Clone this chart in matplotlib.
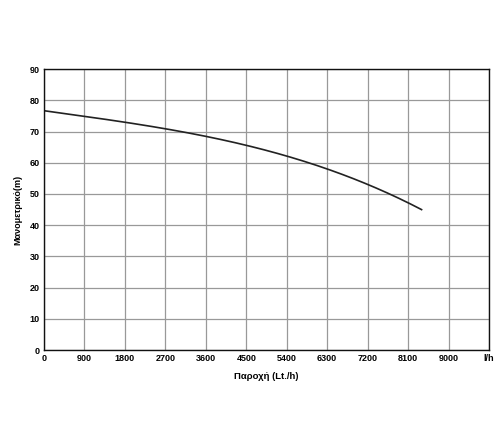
import matplotlib
matplotlib.use("Agg")
import matplotlib.pyplot as plt
import numpy as np

flow = [0, 900, 1800, 2700, 3600, 4500, 5400, 6300, 7200, 8100, 8400]
head = [76.5, 75.0, 73.2, 71.0, 68.3, 65.3, 62.0, 58.0, 53.5, 47.5, 44.5]
xticks = [0, 900, 1800, 2700, 3600, 4500, 5400, 6300, 7200, 8100, 9000, 9900]
xticklabels = ["0", "900", "1800", "2700", "3600", "4500", "5400", "6300", "7200", "8100", "9000", "l/h"]
yticks = list(range(0, 91, 10))

plt.rcParams['font.family'] = ['Liberation Sans', 'DejaVu Sans']
fig = plt.figure(figsize=(5, 4.24), dpi=100)
ax = fig.add_axes([0.088, 0.1745, 0.89, 0.6625])

# smooth curve via polynomial through read points
c = np.polyfit(flow, head, 3)
xs = np.linspace(flow[0], flow[-1], 200)
ax.plot(xs, np.polyval(c, xs), color='#222222', lw=1.2)

ax.set_xlim(0, 9900)
ax.set_ylim(0, 90)
ax.set_xticks(xticks)
ax.set_xticklabels(xticklabels)
ax.set_yticks(yticks)
ax.grid(True, color='#999999', lw=0.9)
ax.tick_params(length=0, labelsize=6.5, pad=3)
for lab in ax.get_xticklabels() + ax.get_yticklabels():
    lab.set_fontweight('bold')
for s in ax.spines.values():
    s.set_color('#111111')
    s.set_linewidth(1.0)
ax.set_xlabel("Παροχή (Lt./h)", fontsize=6.8, fontweight='bold', labelpad=6)
ax.set_ylabel("Μανομετρικό(m)", fontsize=6.5, fontweight='bold', labelpad=5)
fig.savefig("out.png", dpi=100)
